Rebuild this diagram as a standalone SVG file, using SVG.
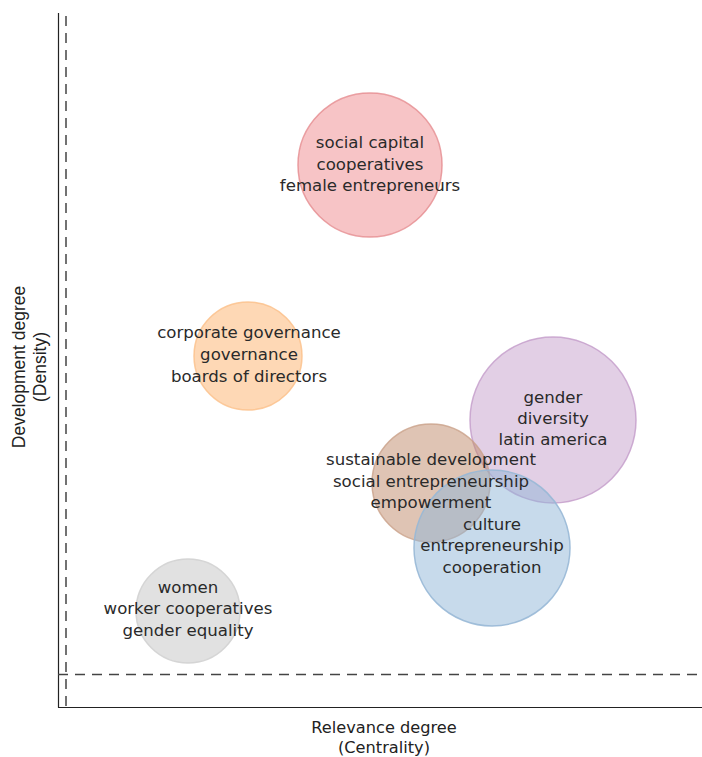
<svg xmlns="http://www.w3.org/2000/svg" width="702" height="757" viewBox="0 0 702 757">
<style>
.lbl{font-family:"DejaVu Sans","Verdana",sans-serif;font-size:16.6px;fill:#2a2a2a;text-anchor:middle}
.ax{font-family:"Liberation Sans",Arial,sans-serif;font-size:17.5px;fill:#222;text-anchor:middle}
.axx{font-family:"DejaVu Sans",sans-serif;font-size:16.2px;fill:#222;text-anchor:middle}
.dash{stroke:#444;stroke-width:1.5;stroke-dasharray:10,7;fill:none}
.axis{stroke:#222;stroke-width:1.2;fill:none}
circle{stroke-width:1.5}
</style>
<rect width="702" height="757" fill="#fff"/>
<g id="axes">
<line class="axis" x1="58.5" y1="13" x2="58.5" y2="707.5"/>
<line class="axis" x1="58" y1="707.5" x2="702" y2="707.5"/>
<line class="dash" x1="66" y1="16" x2="66" y2="707"/>
<line class="dash" x1="58" y1="674.5" x2="702" y2="674.5"/>
<text class="ax" transform="translate(25,367) rotate(-90)">Development degree</text>
<text class="ax" transform="translate(46,367) rotate(-90)">(Density)</text>
<text class="axx" x="384" y="733">Relevance degree</text>
<text class="axx" x="384" y="753">(Centrality)</text>
</g>
<g id="node-red">
<circle cx="370" cy="165" r="72" fill="#ef8a8e" fill-opacity="0.5" stroke="#e58a8d" stroke-opacity="0.8"/>
</g>
<g id="node-orange">
<circle cx="248" cy="356" r="54" fill="#fdb26b" fill-opacity="0.5" stroke="#fbbf88" stroke-opacity="0.8"/>
</g>
<g id="node-purple">
<circle cx="553" cy="420" r="83" fill="#c5a0cc" fill-opacity="0.5" stroke="#c39bc9" stroke-opacity="0.8"/>
</g>
<g id="node-brown">
<circle cx="431" cy="483" r="59" fill="#c08a6a" fill-opacity="0.5" stroke="#c9a088" stroke-opacity="0.8"/>
</g>
<g id="node-blue">
<circle cx="492" cy="548" r="78" fill="#8fb6d8" fill-opacity="0.5" stroke="#98b8d6" stroke-opacity="0.9"/>
</g>
<g id="node-gray">
<circle cx="188" cy="611" r="52" fill="#c4c4c4" fill-opacity="0.5" stroke="#d2d2d2" stroke-opacity="0.9"/>
</g>
<g id="labels">
<text class="lbl" x="370" y="148">social capital</text>
<text class="lbl" x="370" y="170">cooperatives</text>
<text class="lbl" x="370" y="191">female entrepreneurs</text>
<text class="lbl" x="249" y="338">corporate governance</text>
<text class="lbl" x="249" y="360">governance</text>
<text class="lbl" x="249" y="382">boards of directors</text>
<text class="lbl" x="553" y="403">gender</text>
<text class="lbl" x="553" y="424">diversity</text>
<text class="lbl" x="553" y="445">latin america</text>
<text class="lbl" x="431" y="465">sustainable development</text>
<text class="lbl" x="431" y="487">social entrepreneurship</text>
<text class="lbl" x="431" y="508">empowerment</text>
<text class="lbl" x="492" y="530">culture</text>
<text class="lbl" x="492" y="551">entrepreneurship</text>
<text class="lbl" x="492" y="573">cooperation</text>
<text class="lbl" x="188" y="593">women</text>
<text class="lbl" x="188" y="614">worker cooperatives</text>
<text class="lbl" x="188" y="636">gender equality</text>
</g>
</svg>
